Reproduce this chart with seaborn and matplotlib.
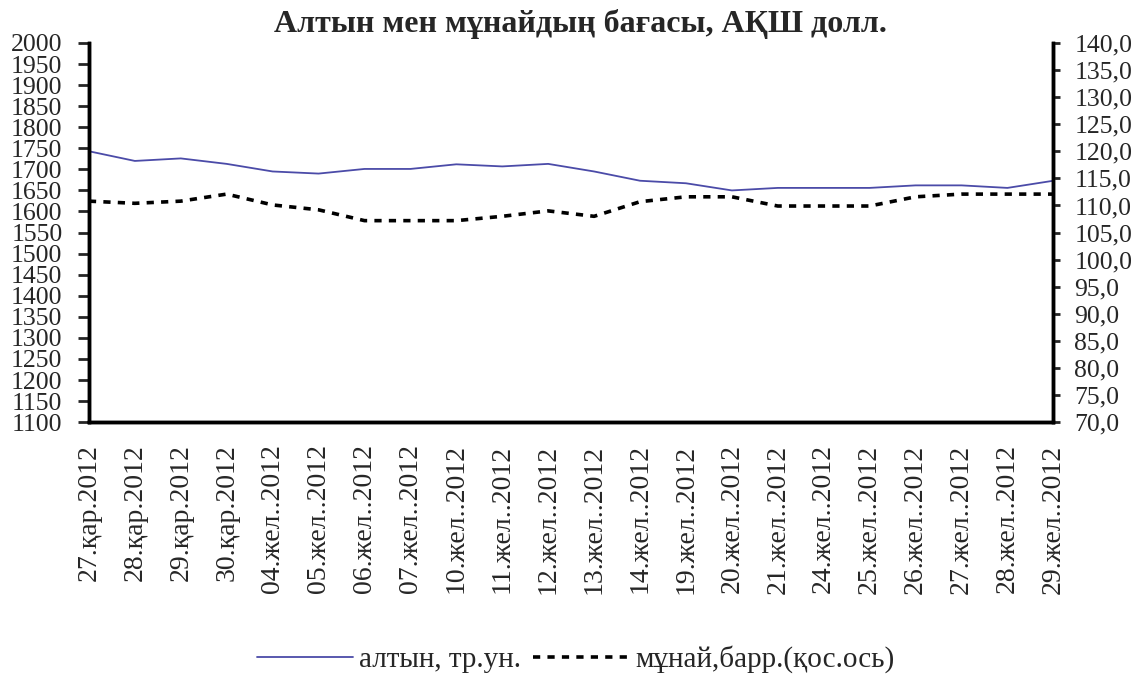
import numpy as np
import pandas as pd
import matplotlib
matplotlib.use("Agg")
import matplotlib.pyplot as plt
import seaborn as sns

dates = [
    "27.қар.2012", "28.қар.2012", "29.қар.2012", "30.қар.2012",
    "04.жел..2012", "05.жел..2012", "06.жел..2012", "07.жел..2012",
    "10.жел..2012", "11.жел..2012", "12.жел..2012", "13.жел..2012",
    "14.жел..2012", "19.жел..2012", "20.жел..2012", "21.жел..2012",
    "24.жел..2012", "25.жел..2012", "26.жел..2012", "27.жел..2012",
    "28.жел..2012", "29.жел..2012",
]
gold = [1743, 1720, 1726, 1713, 1695, 1690, 1701, 1701, 1712, 1707, 1713,
        1695, 1673, 1667, 1650, 1656, 1656, 1656, 1662, 1662, 1656, 1673]
oil = [110.8, 110.4, 110.8, 112.1, 110.1, 109.2, 107.2, 107.2, 107.2, 108.0, 109.0,
       108.0, 110.7, 111.6, 111.6, 109.9, 109.9, 109.9, 111.6, 112.1, 112.1, 112.1]

gold_label = "алтын, тр.ун."
oil_label = "мұнай,барр.(қос.ось)"
title = "Алтын мен мұнайдың бағасы, АҚШ долл."

sns.set_style("white")
plt.rcParams["font.family"] = ["Liberation Serif", "DejaVu Serif"]

df = pd.DataFrame({"idx": np.arange(len(dates)), "date": dates, "gold": gold, "oil": oil})

fig = plt.figure(figsize=(11.4, 6.82), dpi=100)
ax = fig.add_axes([0.078, 0.381, 0.846, 0.556])
ax2 = ax.twinx()

sns.lineplot(data=df, x="idx", y="gold", ax=ax, color="#4B4BA8", linewidth=1.3,
             label=gold_label, legend=False)
sns.lineplot(data=df, x="idx", y="oil", ax=ax2, color="black", linewidth=2.6,
             linestyle=(0, (2, 2)), label=oil_label, legend=False)

ax.set_xlim(0, len(dates) - 1)
ax.set_ylim(1100, 2000)
ax2.set_ylim(70, 140)
ax.set_yticks(np.arange(1100, 2001, 50))
ax2.set_yticks(np.arange(70, 140.1, 5))
ax2.set_yticklabels([f"{v:.1f}".replace(".", ",") for v in np.arange(70, 140.1, 5)])
ax.set_xticks(df["idx"])
ax.set_xticklabels(dates, rotation=90, fontsize=20)

for a in (ax, ax2):
    a.set_xlabel("")
    a.set_ylabel("")
    a.spines["top"].set_visible(False)
    for s in ("left", "right", "bottom"):
        a.spines[s].set_linewidth(2.5)
        a.spines[s].set_color("black")

ax.tick_params(axis="y", direction="out", length=8, width=2, labelsize=18.5, pad=11)
ax2.tick_params(axis="y", direction="out", length=5, width=2, labelsize=18.5, pad=10)
ax.tick_params(axis="x", length=0, pad=16)

fig.suptitle(title, fontsize=23, fontweight="bold", x=0.509, y=0.965, va="center")

h1, l1 = ax.get_legend_handles_labels()
h2, l2 = ax2.get_legend_handles_labels()
fig.legend(h1 + h2, l1 + l2, loc="center", bbox_to_anchor=(0.505, 0.033), ncol=2,
           frameon=False, fontsize=21, handlelength=3.3, columnspacing=0.4, handletextpad=0.2)

fig.savefig("out.png", dpi=100)
